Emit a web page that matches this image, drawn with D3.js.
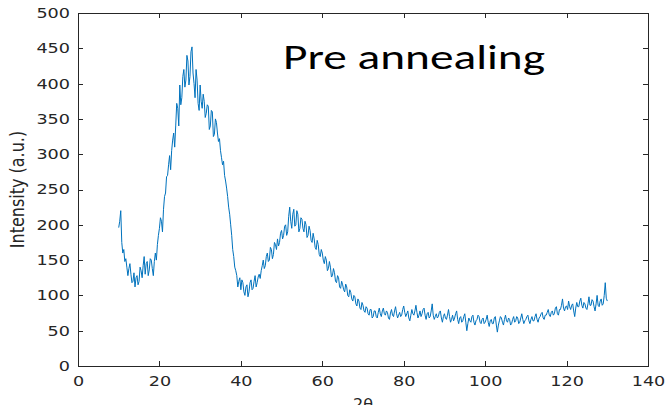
<!DOCTYPE html>
<html>
<head>
<meta charset="utf-8">
<script src="https://cdn.jsdelivr.net/npm/d3@7"></script>
<style>
  body { margin: 0; background: #fff; }
  svg { display: block; }
  .axis text { font-family: 'DejaVu Sans', sans-serif; font-size: 14px; fill: #262626; }
  .axis path, .axis line { stroke: #262626; stroke-width: 1; shape-rendering: crispEdges; }
</style>
</head>
<body>
<div id="chart"></div>
<script>
// scan grid (2-theta, degrees): 10 to 130 in 0.25 steps
const scanStart = 10, scanStep = 0.25;

// intensity, one row per 5 degrees
const intensity = [
  196, 205, 220, 175, 160, 165, 148, 152, 140, 128, 138, 145, 130, 118, 120, 132, 112, 125, 128, 115,
  120, 140, 135, 125, 142, 155, 130, 145, 148, 128, 136, 152, 150, 138, 128, 148, 160, 150, 172, 185,
  195, 210, 205, 190, 222, 240, 245, 268, 270, 285, 298, 278, 305, 320, 330, 310, 340, 372, 365, 340,
  398, 370, 380, 410, 420, 395, 405, 440, 432, 398, 410, 445, 452, 415, 400, 380, 420, 405, 372, 362,
  398, 375, 365, 385, 375, 352, 358, 370, 368, 335, 340, 362, 360, 325, 328, 350, 345, 330, 318, 322,
  305, 295, 285, 290, 270, 262, 252, 240, 225, 215, 200, 185, 165, 155, 140, 135, 128, 112, 120, 125,
  108, 122, 118, 105, 100, 112, 115, 98, 105, 118, 122, 108, 110, 120, 128, 112, 118, 126, 130, 124,
  135, 142, 150, 138, 142, 155, 160, 148, 150, 168, 165, 152, 158, 175, 172, 165, 180, 170, 175, 188,
  192, 180, 185, 198, 200, 185, 190, 212, 225, 205, 195, 215, 222, 198, 200, 220, 215, 190, 195, 210,
  208, 195, 190, 205, 200, 182, 185, 198, 192, 178, 175, 188, 180, 168, 165, 178, 172, 158, 155, 165,
  160, 150, 145, 155, 150, 135, 138, 148, 140, 126, 128, 138, 132, 120, 118, 128, 125, 112, 110, 120,
  115, 108, 105, 116, 112, 100, 98, 108, 104, 95, 92, 100, 98, 88, 85, 95, 92, 82, 80, 90,
  86, 78, 76, 84, 82, 74, 72, 80, 80, 68, 70, 78, 78, 70, 68, 76, 82, 74, 70, 78,
  82, 74, 72, 78, 76, 68, 66, 75, 80, 72, 70, 78, 84, 74, 68, 72, 76, 70, 72, 80,
  85, 76, 70, 74, 78, 68, 64, 72, 80, 74, 72, 78, 86, 76, 68, 72, 78, 70, 74, 80,
  82, 72, 66, 74, 76, 68, 70, 78, 88, 72, 66, 70, 74, 68, 70, 76, 78, 68, 62, 70,
  74, 68, 66, 72, 80, 70, 62, 66, 72, 64, 68, 74, 78, 66, 60, 68, 70, 62, 64, 70,
  74, 62, 50, 60, 68, 64, 62, 70, 72, 62, 58, 64, 66, 72, 70, 62, 60, 66, 68, 60,
  62, 66, 72, 62, 56, 64, 66, 60, 60, 68, 70, 58, 48, 58, 64, 70, 68, 62, 58, 66,
  72, 64, 62, 68, 66, 58, 60, 66, 70, 62, 64, 70, 68, 60, 62, 68, 74, 66, 60, 64,
  66, 70, 72, 64, 60, 66, 70, 64, 64, 70, 74, 66, 62, 68, 70, 74, 76, 68, 66, 72,
  72, 76, 80, 72, 70, 76, 78, 72, 74, 82, 84, 74, 72, 80, 80, 86, 95, 82, 78, 84,
  85, 80, 92, 84, 80, 86, 88, 78, 70, 82, 90, 84, 84, 92, 96, 86, 82, 90, 88, 82,
  80, 88, 98, 86, 86, 94, 92, 84, 78, 88, 100, 86, 84, 92, 95, 86, 88, 100, 118, 96,
  92
];

const xTicks = [0, 20, 40, 60, 80, 100, 120, 140];
const yTicks = [0, 50, 100, 150, 200, 250, 300, 350, 400, 450, 500];
const xLabel = '2θ';
const yLabel = 'Intensity (a.u.)';
const title = 'Pre annealing';

const width = 665, height = 405;
const plot = {left: 78, right: 648, top: 13, bottom: 366};

const svg = d3.select('#chart').append('svg')
    .attr('width', width)
    .attr('height', height);

const x = d3.scaleLinear().domain([0, 140]).range([plot.left, plot.right]);
const y = d3.scaleLinear().domain([0, 500]).range([plot.bottom, plot.top]);

// digits are drawn a little wider than the font gives them
const stretch = sel => sel.selectAll('.tick text')
    .attr('textLength', d => String(d).length * 11.2)
    .attr('lengthAdjust', 'spacingAndGlyphs');

// bottom + left with labels, ticks pointing inwards
svg.append('g').attr('class', 'axis')
    .attr('transform', `translate(0,${plot.bottom})`)
    .call(d3.axisBottom(x).tickValues(xTicks).tickSizeInner(-5).tickSizeOuter(0).tickPadding(10))
    .call(stretch);

svg.append('g').attr('class', 'axis')
    .attr('transform', `translate(${plot.left},0)`)
    .call(d3.axisLeft(y).tickValues(yTicks).tickSizeInner(-5).tickSizeOuter(0).tickPadding(8))
    .call(stretch);

// box: top + right, ticks only
svg.append('g').attr('class', 'axis')
    .attr('transform', `translate(0,${plot.top})`)
    .call(d3.axisTop(x).tickValues(xTicks).tickFormat('').tickSizeInner(-5).tickSizeOuter(0));

svg.append('g').attr('class', 'axis')
    .attr('transform', `translate(${plot.right},0)`)
    .call(d3.axisRight(y).tickValues(yTicks).tickFormat('').tickSizeInner(-5).tickSizeOuter(0));

// the scan
const line = d3.line()
    .x((d, i) => x(scanStart + i * scanStep))
    .y(d => y(d));

svg.append('path')
    .datum(intensity)
    .attr('fill', 'none')
    .attr('stroke', '#0072BD')
    .attr('stroke-width', 1)
    .attr('stroke-linejoin', 'round')
    .attr('d', line);

// axis labels
svg.append('text')
    .attr('transform', `translate(24,${(plot.top + plot.bottom) / 2}) scale(1.25,1) rotate(-90)`)
    .attr('text-anchor', 'middle')
    .style('font-family', "'DejaVu Sans', sans-serif")
    .style('font-size', '16px')
    .style('fill', '#262626')
    .text(yLabel);

svg.append('text')
    .attr('x', (plot.left + plot.right) / 2)
    .attr('y', 410)
    .attr('text-anchor', 'middle')
    .style('font-family', "'DejaVu Sans', sans-serif")
    .style('font-size', '16px')
    .style('fill', '#262626')
    .text(xLabel);

// annotation
svg.append('text')
    .attr('x', 283)
    .attr('y', 69)
    .attr('textLength', 262)
    .attr('lengthAdjust', 'spacingAndGlyphs')
    .style('font-family', "Carlito, Calibri, Lato, sans-serif")
    .style('font-size', '34px')
    .style('fill', '#000')
    .text(title);
</script>
</body>
</html>
